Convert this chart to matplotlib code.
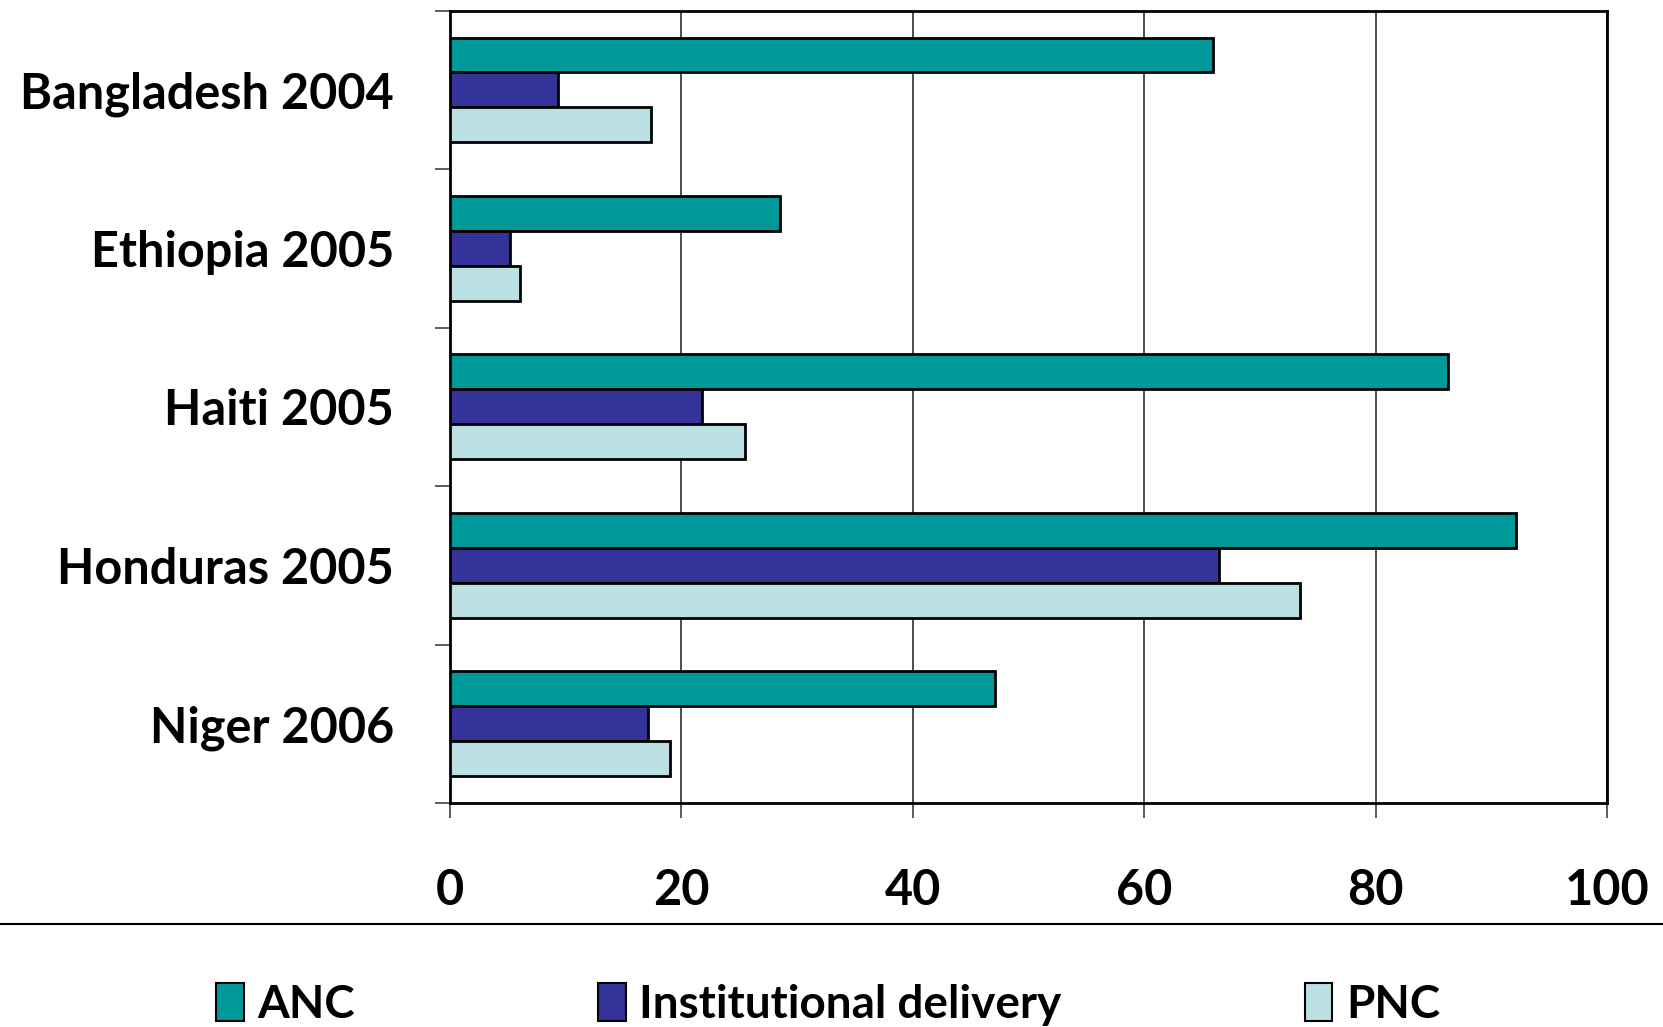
import matplotlib
matplotlib.use("Agg")
import matplotlib.pyplot as plt
from matplotlib.patches import Patch
from matplotlib.lines import Line2D
import numpy as np

plt.rcParams['font.family'] = ['Lato', 'DejaVu Sans']

categories = ["Bangladesh 2004", "Ethiopia 2005", "Haiti 2005", "Honduras 2005", "Niger 2006"]
series_names = ["ANC", "Institutional delivery", "PNC"]
anc = [66.0, 28.5, 86.3, 92.1, 47.1]
inst = [9.4, 5.2, 21.8, 66.5, 17.1]
pnc = [17.4, 6.1, 25.5, 73.5, 19.0]
x_ticks = [0, 20, 40, 60, 80, 100]
colors = ["#009999", "#333399", "#BBE0E3"]

fig = plt.figure(figsize=(16.63, 10.27), dpi=100)
ax = fig.add_axes([0.2704, 0.2181, 0.9663 - 0.2704, 0.9897 - 0.2181])

y = np.arange(len(categories))
h = 0.22
for i, (vals, c) in enumerate(zip([anc, inst, pnc], colors)):
    ax.barh(y + (i - 1) * h, vals, height=h, color=c, edgecolor="black",
            linewidth=2, zorder=3)

ax.set_xlim(0, 100)
ax.set_ylim(4.5, -0.5)
ax.set_xticks(x_ticks)
ax.set_xticklabels([str(v) for v in x_ticks], fontsize=35, fontweight="bold")
ax.set_yticks(np.arange(-0.5, len(categories), 1.0))
ax.set_yticklabels([])
ax.set_yticks(y, minor=True)
ax.set_yticklabels(categories, minor=True, fontsize=35, fontweight="bold")
ax.tick_params(axis="y", which="minor", length=0, pad=40)
ax.tick_params(axis="y", which="major", length=11, width=1.2, color="#404040")
ax.tick_params(axis="x", length=11, width=1.2, color="#404040", pad=36)
ax.grid(axis="x", color="#303030", linewidth=1.2, zorder=0)
for s in ax.spines.values():
    s.set_linewidth(2)
    s.set_color("black")

fig.add_artist(Line2D([0, 1], [0.1003, 0.1003], transform=fig.transFigure,
                      color="black", linewidth=1.5))

handles = [Patch(facecolor=c, edgecolor="black", linewidth=1.5) for c in colors]
fig.legend(handles, series_names, loc="center", bbox_to_anchor=(0.498, 0.022),
           ncol=3, frameon=False, prop={"size": 33, "weight": "bold"},
           columnspacing=5.3, handlelength=0.6, handleheight=0.9, handletextpad=0.3)

fig.savefig("out.png", dpi=100)
